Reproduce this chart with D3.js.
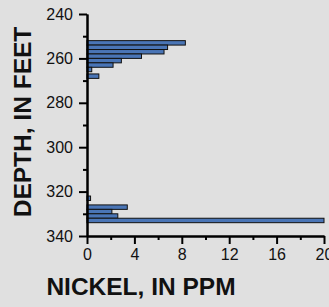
<!DOCTYPE html>
<html>
<head>
<meta charset="utf-8">
<script src="https://cdn.jsdelivr.net/npm/d3@7"></script>
<style>
  html, body { margin: 0; padding: 0; background: #e0e0e0; }
  svg { display: block; }
</style>
</head>
<body>
<svg id="chart" width="329" height="307"></svg>
<script>
// depth intervals (feet) and nickel values (ppm)
var depthTop = [252, 254, 256, 258, 260, 262, 264, 267, 322, 326, 328, 330, 332]
var depthBottom = [254, 256, 258, 260, 262, 264, 266, 269, 324, 328, 330, 332, 334]
var nickel = [8.3, 6.8, 6.5, 4.6, 2.9, 2.2, 0.4, 1.0, 0.3, 3.4, 2.1, 2.6, 20]

var xMajor = [0, 4, 8, 12, 16, 20]
var xMinor = [2, 6, 10, 14, 18]
var yMajor = [240, 260, 280, 300, 320, 340]
var yMinor = [250, 270, 290, 310, 330]

var svg = d3.select('#chart')
var font = 'Liberation Sans, Arial, Helvetica, sans-serif'

var x = d3.scaleLinear().domain([0, 20]).range([87, 324])
var y = d3.scaleLinear().domain([240, 340]).range([14, 236])

var rows = nickel.map((v, i) => ({ v: v, top: depthTop[i], bot: depthBottom[i] }))

// bars
svg.append('g')
    .selectAll('rect')
    .data(rows)
    .join('rect')
    .attr('x', x(0))
    .attr('y', d => y(d.top))
    .attr('width', d => x(d.v) - x(0))
    .attr('height', d => y(d.bot) - y(d.top))
    .attr('fill', '#4a75b6')
    .attr('stroke', '#111')
    .attr('stroke-width', 1)

// y axis
var gy = svg.append('g').attr('transform', `translate(${x(0)},0)`)
gy.call(d3.axisLeft(y).tickValues(yMajor).tickSize(8).tickSizeOuter(0).tickPadding(6))
gy.append('g').call(d3.axisLeft(y).tickValues(yMinor).tickSize(4).tickSizeOuter(0).tickFormat(''))

// x axis
var gx = svg.append('g').attr('transform', `translate(0,${y(340)})`)
gx.call(d3.axisBottom(x).tickValues(xMajor).tickSize(8).tickSizeOuter(0).tickPadding(5))
gx.append('g').call(d3.axisBottom(x).tickValues(xMinor).tickSize(4).tickSizeOuter(0).tickFormat(''))

svg.selectAll('.domain').attr('stroke', '#000').attr('stroke-width', 2)
svg.selectAll('.tick line').attr('stroke', '#000').attr('stroke-width', 2)
svg.selectAll('.tick text')
    .attr('font-family', font)
    .attr('font-size', 16)
    .attr('fill', '#111')

// axis titles
svg.append('text')
    .attr('transform', 'translate(31,122) rotate(-90)')
    .attr('text-anchor', 'middle')
    .attr('font-family', font)
    .attr('font-weight', 'bold')
    .attr('font-size', 24.5)
    .attr('fill', '#111')
    .text('DEPTH, IN FEET')

svg.append('text')
    .attr('x', 141)
    .attr('y', 295)
    .attr('text-anchor', 'middle')
    .attr('font-family', font)
    .attr('font-weight', 'bold')
    .attr('font-size', 24.5)
    .attr('fill', '#111')
    .text('NICKEL, IN PPM')
</script>
</body>
</html>
